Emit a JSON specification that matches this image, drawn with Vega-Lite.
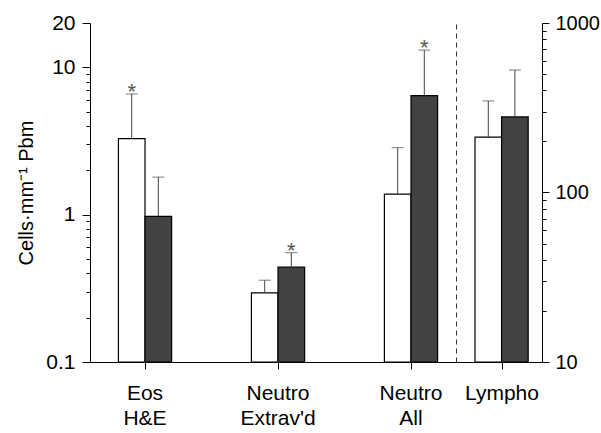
{
  "$schema": "https://vega.github.io/schema/vega-lite/v6.json",
  "padding": {"left": 16, "top": 12, "right": 2, "bottom": 0},
  "datasets": {
    "left": [
      {"cat": "Eos H&E", "grp": "A", "value": 3.28, "err": 6.6, "sig": "*"},
      {"cat": "Eos H&E", "grp": "B", "value": 0.975, "err": 1.8, "sig": ""},
      {"cat": "Neutro Extrav'd", "grp": "A", "value": 0.295, "err": 0.359, "sig": ""},
      {"cat": "Neutro Extrav'd", "grp": "B", "value": 0.44, "err": 0.552, "sig": "*"},
      {"cat": "Neutro All", "grp": "A", "value": 1.38, "err": 2.85, "sig": ""},
      {"cat": "Neutro All", "grp": "B", "value": 6.43, "err": 13.1, "sig": "*"}
    ],
    "right": [
      {"cat": "Lympho", "grp": "A", "value": 212, "err": 347, "sig": ""},
      {"cat": "Lympho", "grp": "B", "value": 279, "err": 528, "sig": ""}
    ]
  },
  "config": {
    "view": {"stroke": null},
    "font": "Liberation Sans",
    "axis": {"grid": false, "domainColor": "#000", "tickColor": "#000", "labelColor": "#000", "titleColor": "#000", "labelFont": "Liberation Sans", "titleFont": "Liberation Sans"}
  },
  "spacing": 0,
  "bounds": "flush",
  "hconcat": [
    {
      "width": 366,
      "height": 339,
      "data": {"name": "left"},
      "encoding": {
        "x": {"field": "cat", "type": "nominal", "sort": ["Eos H&E", "Neutro Extrav'd", "Neutro All"],
          "scale": {"paddingInner": 0.6, "paddingOuter": 0.176, "align": 0.607},
          "axis": {"title": null, "labelAngle": 0, "labelExpr": "split(datum.value, ' ')", "labelFontSize": 21, "labelLineHeight": 25, "tickSize": 7, "labelPadding": 13, "labelBaseline": "top"}},
        "xOffset": {"field": "grp", "type": "nominal", "sort": ["A", "B"], "scale": {"paddingInner": 0, "paddingOuter": 0}}
      },
      "layer": [
        {
          "mark": {"type": "bar", "stroke": "#000", "strokeWidth": 1.2},
          "encoding": {
            "y": {"field": "value", "type": "quantitative", "scale": {"type": "log", "domain": [0.1, 20]},
              "axis": {"orient": "left", "values": [0.1, 1, 10, 20], "format": "~g", "labelFontSize": 21, "tickSize": 8, "labelPadding": 7, "title": "Cells·mm⁻¹ Pbm", "titleFontSize": 20, "titleFontWeight": "normal", "titlePadding": 9}},
            "y2": {"datum": 0.1},
            "fill": {"field": "grp", "type": "nominal", "scale": {"domain": ["A", "B"], "range": ["#ffffff", "#424242"]}, "legend": null}
          }
        },
        {
          "mark": {"type": "rule", "color": "#444", "strokeWidth": 1},
          "encoding": {
            "y": {"field": "value", "type": "quantitative", "scale": {"type": "log", "domain": [0.1, 20]}, "axis": null},
            "y2": {"field": "err"}
          }
        },
        {
          "mark": {"type": "tick", "color": "#444", "thickness": 1, "size": 12},
          "encoding": {
            "y": {"field": "err", "type": "quantitative", "scale": {"type": "log", "domain": [0.1, 20]}, "axis": null}
          }
        },
        {
          "mark": {"type": "text", "fontSize": 22, "dy": 5, "baseline": "alphabetic", "color": "#555"},
          "encoding": {
            "y": {"field": "err", "type": "quantitative", "scale": {"type": "log", "domain": [0.1, 20]}, "axis": null},
            "text": {"field": "sig"}
          }
        },
        {
          "mark": {"type": "point", "opacity": 0},
          "encoding": {
            "y": {"field": "value", "type": "quantitative", "scale": {"type": "log", "domain": [0.1, 20]},
              "axis": {"orient": "left", "values": [0.2, 0.3, 0.4, 0.5, 0.6, 0.7, 0.8, 0.9, 2, 3, 4, 5, 6, 7, 8, 9], "labels": false, "domain": false, "tickSize": 4, "title": null}}
          }
        }
      ],
      "resolve": {"scale": {"y": "independent"}, "axis": {"y": "independent"}}
    },
    {
      "width": 86,
      "height": 339,
      "data": {"name": "right"},
      "encoding": {
        "x": {"field": "cat", "type": "nominal",
          "scale": {"paddingInner": 0, "paddingOuter": 0.296, "align": 0.594},
          "axis": {"title": null, "labelAngle": 0, "labelExpr": "split(datum.value, ' ')", "labelFontSize": 21, "labelLineHeight": 25, "tickSize": 7, "labelPadding": 13, "labelBaseline": "top"}},
        "xOffset": {"field": "grp", "type": "nominal", "sort": ["A", "B"], "scale": {"paddingInner": 0, "paddingOuter": 0}}
      },
      "layer": [
        {
          "mark": {"type": "bar", "stroke": "#000", "strokeWidth": 1.2},
          "encoding": {
            "y": {"field": "value", "type": "quantitative", "scale": {"type": "log", "domain": [10, 1000]},
              "axis": {"orient": "right", "values": [10, 100, 1000], "format": "~g", "labelFontSize": 20, "tickSize": 7, "labelPadding": 6, "title": null}},
            "y2": {"datum": 10},
            "fill": {"field": "grp", "type": "nominal", "scale": {"domain": ["A", "B"], "range": ["#ffffff", "#424242"]}, "legend": null}
          }
        },
        {
          "mark": {"type": "rule", "color": "#444", "strokeWidth": 1},
          "encoding": {
            "y": {"field": "value", "type": "quantitative", "scale": {"type": "log", "domain": [10, 1000]}, "axis": null},
            "y2": {"field": "err"}
          }
        },
        {
          "mark": {"type": "tick", "color": "#444", "thickness": 1, "size": 12},
          "encoding": {
            "y": {"field": "err", "type": "quantitative", "scale": {"type": "log", "domain": [10, 1000]}, "axis": null}
          }
        },
        {
          "mark": {"type": "point", "opacity": 0},
          "encoding": {
            "y": {"field": "value", "type": "quantitative", "scale": {"type": "log", "domain": [10, 1000]},
              "axis": {"orient": "right", "values": [20, 30, 40, 50, 60, 70, 80, 90, 200, 300, 400, 500, 600, 700, 800, 900], "labels": false, "domain": false, "tickSize": 4, "title": null}}
          }
        },
        {
          "mark": {"type": "point", "opacity": 0},
          "encoding": {
            "y": {"field": "value", "type": "quantitative", "scale": {"type": "log", "domain": [10, 1000]},
              "axis": {"orient": "left", "labels": false, "ticks": false, "domainDash": [5, 4], "domainColor": "#333", "title": null}}
          }
        }
      ],
      "resolve": {"scale": {"y": "independent"}, "axis": {"y": "independent"}}
    }
  ]
}
